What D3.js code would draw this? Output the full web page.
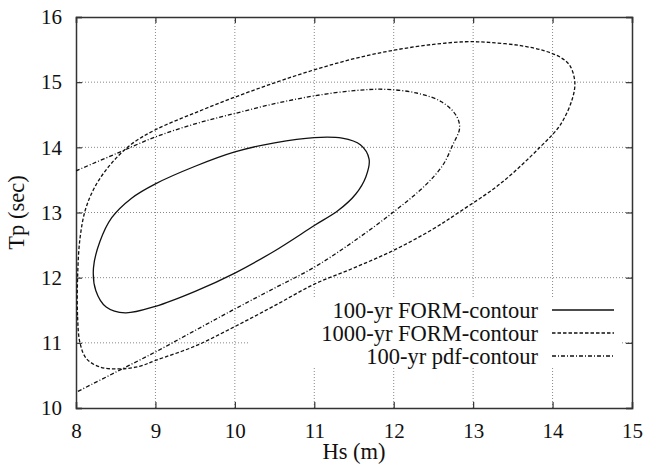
<!DOCTYPE html>
<html>
<head>
<meta charset="utf-8">
<script src="https://cdn.jsdelivr.net/npm/d3@7"></script>
<style>
  body { margin: 0; background: #fff; }
  text { font-family: "Liberation Serif", "Times New Roman", serif; fill: #111; }
</style>
</head>
<body>
<div id="container"></div>
<script>
// axis ticks
var xTicks = [8, 9, 10, 11, 12, 13, 14, 15];
var yTicks = [10, 11, 12, 13, 14, 15, 16];

// 100-yr FORM contour (closed), [Hs, Tp]
var form100 = [
  [8.22, 12.15], [8.30, 12.55], [8.45, 12.92], [8.70, 13.22], [9.0, 13.44],
  [9.5, 13.71], [10.0, 13.93], [10.5, 14.07], [11.0, 14.15], [11.35, 14.14],
  [11.58, 14.04], [11.69, 13.82], [11.65, 13.55], [11.52, 13.28], [11.3, 13.03],
  [11.0, 12.80], [10.5, 12.41], [10.0, 12.07], [9.5, 11.79], [9.0, 11.56],
  [8.62, 11.46], [8.38, 11.55], [8.25, 11.80]
];

// 1000-yr FORM contour (closed)
var form1000 = [
  [8.02, 12.0], [8.02, 11.4], [8.05, 11.0], [8.13, 10.76], [8.30, 10.63],
  [8.55, 10.60], [8.80, 10.64], [9.0, 10.73], [9.5, 10.95], [10.0, 11.25],
  [10.5, 11.57], [11.0, 11.90], [11.5, 12.15], [12.0, 12.42], [12.5, 12.75],
  [12.83, 13.01], [13.34, 13.44], [13.84, 14.0], [14.1, 14.35], [14.25, 14.75],
  [14.28, 15.0], [14.22, 15.25], [14.1, 15.38], [13.9, 15.48], [13.6, 15.56],
  [13.2, 15.61], [12.9, 15.62], [12.5, 15.58], [12.0, 15.49], [11.5, 15.36],
  [11.0, 15.19], [10.5, 14.99], [10.0, 14.77], [9.5, 14.53], [9.0, 14.27],
  [8.7, 14.05], [8.45, 13.76], [8.25, 13.42], [8.12, 13.05], [8.05, 12.6]
];

// 100-yr pdf contour (open at the left axis)
var pdf100 = [
  [8.0, 13.64], [8.5, 13.9], [9.0, 14.16], [9.5, 14.36], [10.0, 14.52],
  [10.5, 14.67], [11.0, 14.79], [11.5, 14.87], [11.9, 14.89], [12.3, 14.83],
  [12.6, 14.7], [12.78, 14.5], [12.83, 14.3], [12.74, 14.03], [12.62, 13.73],
  [12.4, 13.42], [12.0, 13.01], [11.5, 12.56], [11.0, 12.16], [10.5, 11.84],
  [10.0, 11.52], [9.5, 11.19], [9.0, 10.86], [8.5, 10.55], [8.0, 10.24]
];

var series = [
  { name: "100-yr FORM-contour", data: form100, closed: true, dash: null },
  { name: "1000-yr FORM-contour", data: form1000, closed: true, dash: "3.5,2" },
  { name: "100-yr pdf-contour", data: pdf100, closed: false, dash: "4,2,1,2" }
];

var margin = {top: 17, right: 28, bottom: 60, left: 76},
  width = 556,
  height = 391;

var svg = d3.select("#container").append("svg")
  .attr("width", 660)
  .attr("height", 468);

var g = svg.append("g")
  .attr("transform", "translate(" + margin.left + "," + margin.top + ")");

var x = d3.scaleLinear().domain([8, 15]).range([0, width]);
var y = d3.scaleLinear().domain([10, 16]).range([height, 0]);

// grid
g.selectAll(".gx").data(xTicks.slice(1, -1)).enter().append("line")
  .attr("x1", function(d) { return x(d); }).attr("x2", function(d) { return x(d); })
  .attr("y1", 0).attr("y2", height)
  .attr("stroke", "#888").attr("stroke-width", 1).attr("stroke-dasharray", "1,2");
g.selectAll(".gy").data(yTicks.slice(1, -1)).enter().append("line")
  .attr("y1", function(d) { return y(d); }).attr("y2", function(d) { return y(d); })
  .attr("x1", 0).attr("x2", width)
  .attr("stroke", "#888").attr("stroke-width", 1).attr("stroke-dasharray", "1,2");

// legend background hides the grid only
g.append("rect")
  .attr("x", 172).attr("y", 281).attr("width", 372).attr("height", 70)
  .attr("fill", "#fff");

// axes with inward ticks on all four sides
g.append("g").attr("transform", "translate(0," + height + ")")
  .call(d3.axisBottom(x).tickValues(xTicks).tickSize(-6).tickPadding(15).tickFormat(d3.format("d")));
g.append("g")
  .call(d3.axisTop(x).tickValues(xTicks).tickSize(-6).tickFormat(""));
g.append("g")
  .call(d3.axisLeft(y).tickValues(yTicks).tickSize(-6).tickPadding(14).tickFormat(d3.format("d")));
g.append("g").attr("transform", "translate(" + width + ",0)")
  .call(d3.axisRight(y).tickValues(yTicks).tickSize(-6).tickFormat(""));

g.selectAll(".domain").attr("stroke", "#333").attr("stroke-width", 1.5);
g.selectAll(".tick line").attr("stroke", "#333").attr("stroke-width", 1.2);
g.selectAll(".tick text").style("font-size", "21px").attr("fill", "#111");

// clip curves to the frame
svg.append("defs").append("clipPath").attr("id", "plotclip")
  .append("rect").attr("width", width).attr("height", height);

var lineClosed = d3.line()
  .x(function(d) { return x(d[0]); }).y(function(d) { return y(d[1]); })
  .curve(d3.curveCatmullRomClosed.alpha(0.5));
var lineOpen = d3.line()
  .x(function(d) { return x(d[0]); }).y(function(d) { return y(d[1]); })
  .curve(d3.curveCatmullRom.alpha(0.5));

g.append("g").attr("clip-path", "url(#plotclip)")
  .selectAll("path").data(series).enter().append("path")
  .attr("d", function(d) { return d.closed ? lineClosed(d.data) : lineOpen(d.data); })
  .attr("fill", "none")
  .attr("stroke", "#111")
  .attr("stroke-width", 1.3)
  .attr("stroke-dasharray", function(d) { return d.dash; });

// legend
var legend = g.selectAll(".legend").data(series).enter().append("g")
  .attr("transform", function(d, i) { return "translate(0," + (293 + i * 23) + ")"; });
legend.append("text")
  .attr("x", 462).attr("y", 0).attr("dy", ".35em")
  .style("text-anchor", "end").style("font-size", "22.5px")
  .text(function(d) { return d.name; });
legend.append("line")
  .attr("x1", 476).attr("x2", 538).attr("y1", 0).attr("y2", 0)
  .attr("stroke", "#111").attr("stroke-width", 1.3)
  .attr("stroke-dasharray", function(d) { return d.dash; });

// axis titles
svg.append("text")
  .attr("x", margin.left + width / 2).attr("y", 459)
  .style("text-anchor", "middle").style("font-size", "22.5px")
  .text("Hs (m)");
svg.append("text")
  .attr("transform", "translate(24," + (margin.top + height / 2) + ") rotate(-90)")
  .style("text-anchor", "middle").style("font-size", "22.5px")
  .text("Tp (sec)");
</script>
</body>
</html>
